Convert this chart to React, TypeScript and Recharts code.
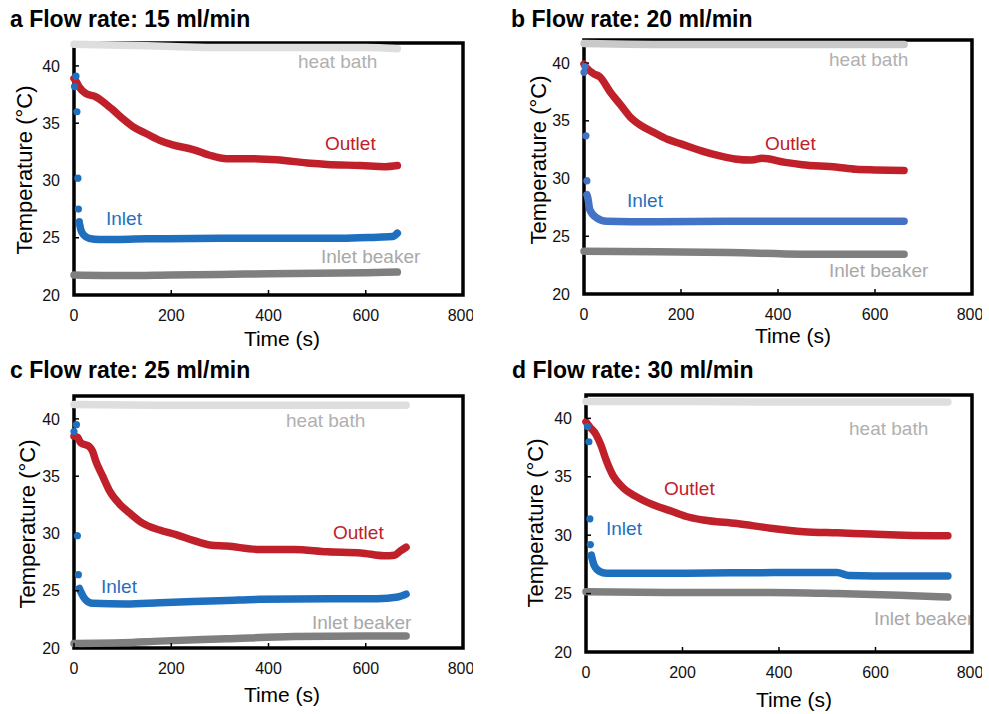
import React from "react";
import {
  ComposedChart,
  Line,
  ReferenceArea,
  XAxis,
  YAxis,
} from "recharts";

// [time (s), temperature (°C)]
const heatA = [[0, 41.9], [100, 41.8], [200, 41.7], [300, 41.6], [400, 41.6], [500, 41.6], [600, 41.6], [665, 41.5]];
const outletA = [[0, 38.9], [5, 38.6], [10, 38.2], [24, 37.6], [45, 37.3], [59, 36.9], [79, 36.2], [100, 35.4], [121, 34.7], [148, 34.1], [176, 33.5], [203, 33.1], [245, 32.7], [279, 32.2], [314, 31.9], [348, 31.9], [417, 31.8], [486, 31.5], [521, 31.4], [590, 31.3], [640, 31.2], [665, 31.3]];
const inletDotsA = [[1, 38.2], [4, 39.1], [6, 36.0], [8, 30.2], [9, 27.5], [11, 26.4]];
const inletA = [[12, 26.1], [14, 25.7], [21, 25.2], [31, 24.95], [52, 24.85], [150, 24.9], [300, 24.95], [450, 24.95], [550, 24.95], [624, 25.05], [655, 25.1], [665, 25.4]];
const beakerA = [[0, 21.75], [100, 21.7], [200, 21.75], [300, 21.8], [400, 21.85], [500, 21.9], [600, 21.95], [665, 22.0]];

const heatB = [[0, 41.7], [200, 41.6], [400, 41.6], [660, 41.6]];
const outletB = [[0, 39.9], [5, 39.6], [19, 39.1], [33, 38.8], [54, 37.5], [75, 36.4], [96, 35.3], [117, 34.6], [144, 34.0], [172, 33.4], [200, 33.0], [242, 32.4], [276, 32.0], [311, 31.7], [346, 31.6], [367, 31.75], [415, 31.4], [450, 31.2], [519, 31.0], [561, 30.8], [600, 30.75], [660, 30.7]];
const inletDotsB = [[0, 39.2], [2, 39.7], [4, 33.7], [6, 29.8]];
const inletB = [[6, 28.6], [8, 28.3], [12, 27.3], [26, 26.6], [47, 26.3], [150, 26.25], [300, 26.3], [450, 26.3], [660, 26.3]];
const beakerB = [[0, 23.7], [150, 23.65], [300, 23.6], [450, 23.45], [550, 23.45], [660, 23.45]];

const heatC = [[0, 41.25], [200, 41.2], [400, 41.2], [600, 41.2], [683, 41.2]];
const outletC = [[0, 38.5], [7, 38.4], [14, 37.9], [31, 37.6], [38, 37.2], [45, 36.3], [59, 35.0], [72, 33.8], [93, 32.6], [114, 31.8], [141, 30.9], [176, 30.3], [210, 29.9], [245, 29.4], [279, 29.0], [314, 28.9], [383, 28.6], [452, 28.6], [521, 28.4], [590, 28.3], [638, 28.05], [659, 28.1], [672, 28.5], [683, 28.8]];
const inletDotsC = [[0, 38.9], [5, 39.5], [7, 29.8], [9, 26.4]];
const inletC = [[11, 25.2], [14, 24.9], [24, 24.2], [38, 23.9], [107, 23.85], [176, 23.95], [245, 24.05], [314, 24.15], [383, 24.25], [521, 24.3], [624, 24.3], [666, 24.45], [683, 24.7]];
const beakerC = [[0, 20.4], [100, 20.45], [176, 20.6], [314, 20.8], [452, 21.0], [600, 21.05], [683, 21.05]];

const heatD = [[0, 41.45], [200, 41.45], [400, 41.4], [600, 41.4], [750, 41.4]];
const outletD = [[0, 39.7], [7, 39.3], [21, 38.6], [31, 37.7], [42, 36.4], [56, 35.1], [76, 34.1], [104, 33.3], [139, 32.6], [174, 32.1], [208, 31.6], [243, 31.3], [313, 31.0], [382, 30.6], [451, 30.3], [521, 30.2], [590, 30.1], [660, 30.0], [750, 29.95]];
const inletDotsD = [[3, 39.3], [6, 38.0], [8, 31.4], [9, 29.2]];
const inletD = [[11, 28.3], [17, 27.4], [28, 26.9], [42, 26.75], [200, 26.75], [400, 26.8], [520, 26.8], [545, 26.55], [650, 26.5], [750, 26.5]];
const beakerD = [[0, 25.15], [200, 25.1], [382, 25.1], [520, 25.0], [650, 24.85], [750, 24.7]];

const xTicks = [0, 200, 400, 600, 800];
const yTicks = [20, 25, 30, 35, 40];
const titles = ["a Flow rate: 15 ml/min", "b Flow rate: 20 ml/min", "c Flow rate: 25 ml/min", "d Flow rate: 30 ml/min"];

const FONT = "'Liberation Sans', Arial, sans-serif";
const RED = "#C0202A";
const BLUE = "#1F6FBF";
const DARK = "#7F7F7F";
const LABEL_GRAY = "#B0B0B0";

const toPts = (arr: number[][]) => arr.map(([t, v]) => ({ t, v }));

type Panel = {
  heat: number[][];
  outlet: number[][];
  inletDots: number[][];
  inlet: number[][];
  beaker: number[][];
  box: { l: number; t: number; r: number; b: number };
  heatColor: string;
  inletColor: string;
  title: [number, number];
  yTitle: [number, number];
  xTitle: [number, number];
  labels: { heat: [number, number]; outlet: [number, number]; inlet: [number, number]; beaker: [number, number] };
};

const panels: Panel[] = [
  {
    heat: heatA, outlet: outletA, inletDots: inletDotsA, inlet: inletA, beaker: beakerA,
    box: { l: 74, t: 43, r: 463, b: 295 }, heatColor: "#DEDEDE", inletColor: BLUE,
    title: [10, 27], yTitle: [32, 170], xTitle: [282, 346],
    labels: { heat: [298, 68], outlet: [325, 150], inlet: [106, 225], beaker: [321, 263] },
  },
  {
    heat: heatB, outlet: outletB, inletDots: inletDotsB, inlet: inletB, beaker: beakerB,
    box: { l: 584, t: 40, r: 972, b: 294 }, heatColor: "#C9C9C9", inletColor: "#4472C4",
    title: [511, 27], yTitle: [546, 160], xTitle: [793, 343],
    labels: { heat: [829, 66], outlet: [765, 150], inlet: [627, 207], beaker: [829, 277] },
  },
  {
    heat: heatC, outlet: outletC, inletDots: inletDotsC, inlet: inletC, beaker: beakerC,
    box: { l: 74, t: 396, r: 463, b: 648 }, heatColor: "#DEDEDE", inletColor: BLUE,
    title: [10, 378], yTitle: [35, 524], xTitle: [282, 702],
    labels: { heat: [286, 427], outlet: [333, 539], inlet: [101, 593], beaker: [312, 629] },
  },
  {
    heat: heatD, outlet: outletD, inletDots: inletDotsD, inlet: inletD, beaker: beakerD,
    box: { l: 586, t: 395, r: 972, b: 652 }, heatColor: "#DEDEDE", inletColor: BLUE,
    title: [512, 378], yTitle: [543, 523], xTitle: [794, 707],
    labels: { heat: [849, 435], outlet: [664, 495], inlet: [606, 535], beaker: [874, 625] },
  },
];

const AXIS_W = 70;
const AXIS_H = 40;
const PAD = 10;

function PanelChart({ p }: { p: Panel }) {
  const w = p.box.r - p.box.l + AXIS_W + PAD;
  const h = p.box.b - p.box.t + AXIS_H + PAD;
  const band = { type: "monotone" as const, dataKey: "v", strokeWidth: 7.5, strokeLinecap: "round" as const, dot: false, isAnimationActive: false };
  const tickStyle = { fontSize: 16, fill: "#111", fontFamily: FONT };
  return (
    <div style={{ position: "absolute", left: p.box.l - AXIS_W, top: p.box.t - PAD }}>
      <ComposedChart width={w} height={h} margin={{ top: PAD, right: PAD, bottom: 0, left: 0 }}>
        <XAxis
          type="number"
          dataKey="t"
          domain={[0, 800]}
          ticks={xTicks}
          height={AXIS_H}
          axisLine={false}
          tickSize={-5}
          tickMargin={20}
          tickLine={{ stroke: "#000", strokeWidth: 1.5 }}
          tick={tickStyle}
          allowDuplicatedCategory={false}
        />
        <YAxis
          type="number"
          dataKey="v"
          domain={[20, 42]}
          ticks={yTicks}
          width={AXIS_W}
          axisLine={false}
          tickSize={-5}
          tickMargin={19}
          tickLine={{ stroke: "#000", strokeWidth: 1.5 }}
          tick={tickStyle}
        />
        <Line {...band} data={toPts(p.heat)} stroke={p.heatColor} />
        <Line {...band} data={toPts(p.beaker)} stroke={DARK} />
        <Line {...band} data={toPts(p.outlet)} stroke={RED} />
        <Line {...band} data={toPts(p.inlet)} stroke={p.inletColor} />
        <Line
          type="linear"
          dataKey="v"
          data={toPts(p.inletDots)}
          stroke="none"
          dot={{ r: 3.6, fill: p.inletColor, stroke: "none" }}
          isAnimationActive={false}
        />
        <ReferenceArea x1={0} x2={800} y1={20} y2={42} fill="none" stroke="#000" strokeWidth={3.5} />
      </ComposedChart>
    </div>
  );
}

export default function App() {
  return (
    <div style={{ position: "absolute", left: 0, top: 0, width: 989, height: 714, background: "#fff", fontFamily: FONT }}>
      <svg width={989} height={714} style={{ position: "absolute", left: 0, top: 0 }}>
        {panels.map((p, i) => (
          <g key={i} fontFamily={FONT}>
            <text x={p.title[0]} y={p.title[1]} fontSize={23} fontWeight="bold" fill="#000">{titles[i]}</text>
            <text
              x={p.yTitle[0]}
              y={p.yTitle[1]}
              fontSize={22}
              textAnchor="middle"
              fill="#000"
              transform={`rotate(-90 ${p.yTitle[0]} ${p.yTitle[1]})`}
            >
              Temperature (°C)
            </text>
            <text x={p.xTitle[0]} y={p.xTitle[1]} fontSize={21} textAnchor="middle" fill="#000">Time (s)</text>
            <text x={p.labels.heat[0]} y={p.labels.heat[1]} fontSize={19} fill={LABEL_GRAY}>heat bath</text>
            <text x={p.labels.outlet[0]} y={p.labels.outlet[1]} fontSize={19} fill={RED}>Outlet</text>
            <text x={p.labels.inlet[0]} y={p.labels.inlet[1]} fontSize={19} fill={BLUE}>Inlet</text>
            <text x={p.labels.beaker[0]} y={p.labels.beaker[1]} fontSize={19} fill="#A8A8A8">Inlet beaker</text>
          </g>
        ))}
      </svg>
      {panels.map((p, i) => (
        <PanelChart key={i} p={p} />
      ))}
    </div>
  );
}
